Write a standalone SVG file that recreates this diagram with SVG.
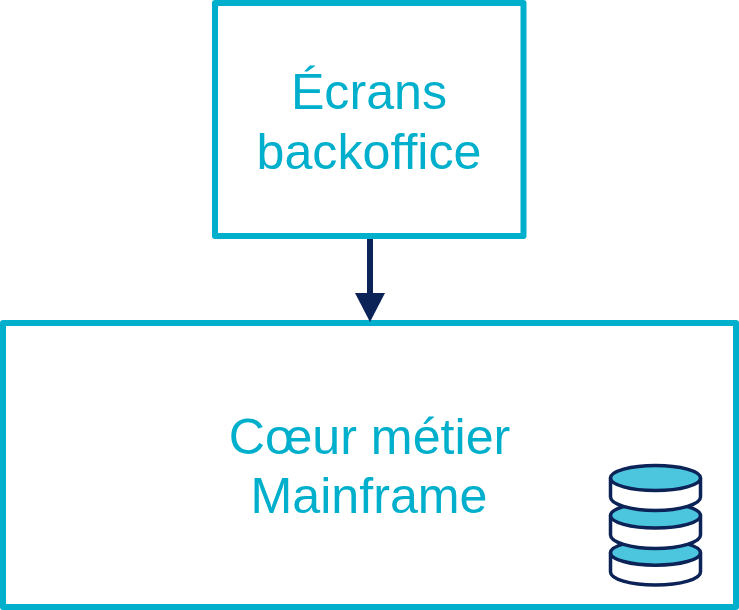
<svg xmlns="http://www.w3.org/2000/svg" width="739" height="610" viewBox="0 0 739 610">
<style>
.box{fill:#fff;stroke:#00afcb;stroke-width:6;stroke-linejoin:round}
.t{font-family:"Liberation Sans",Arial,sans-serif;font-size:50.2px;fill:#00afcb;text-anchor:middle}
.disk{fill:#fff;stroke:#0c2358;stroke-width:3.5;stroke-linejoin:round}
.top{fill:#4cc6de;stroke:#0c2358;stroke-width:3.5}
</style>
<rect width="739" height="610" fill="#fff"/>
<g id="ecrans">
<rect class="box" x="215" y="3" width="308.500" height="233"/>
<text class="t" x="369" y="109">Écrans</text>
<text class="t" x="369" y="169">backoffice</text>
</g>
<g id="coeur">
<rect class="box" x="3" y="323" width="733" height="284"/>
<text class="t" x="369.500" y="454">Cœur métier</text>
<text class="t" x="369" y="513">Mainframe</text>
<g id="db">
<path class="disk" d="M610.500 552.700V572C610.500 579 630 585 655.500 585S700.500 579 700.500 572V552.700Z"/>
<ellipse class="top" cx="655.500" cy="552.700" rx="45" ry="12.500"/>
<path class="disk" d="M610.500 515.500V535C610.500 542 630 548.500 655.500 548.500S700.500 542 700.500 535V515.500Z"/>
<ellipse class="top" cx="655.500" cy="515.500" rx="45" ry="12.500"/>
<path class="disk" d="M610.500 478V497C610.500 504 630 510.500 655.500 510.500S700.500 504 700.500 497V478Z"/>
<ellipse class="top" cx="655.500" cy="478" rx="45" ry="12.500"/>
</g>
</g>
<g id="connectors">
<line x1="370" y1="239" x2="370" y2="294" stroke="#0c2358" stroke-width="6"/>
<polygon points="355,293 385,293 370,322" fill="#0c2358"/>
</g>
</svg>
